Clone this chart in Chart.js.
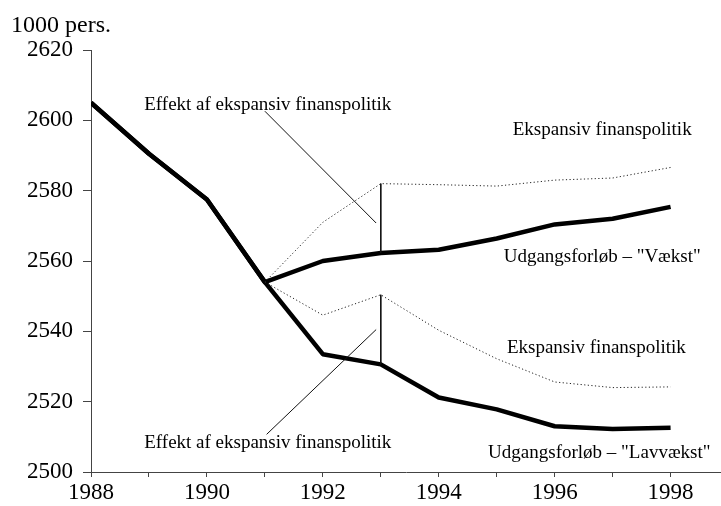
<!DOCTYPE html>
<html>
<head>
<meta charset="utf-8">
<script src="https://cdn.jsdelivr.net/npm/chart.js@4/dist/chart.umd.min.js"></script>
<style>
html,body{margin:0;padding:0;background:#fff;}
#wrap{width:721px;height:506px;position:relative;}
</style>
</head>
<body>
<div id="wrap"><canvas id="c" width="721" height="506"></canvas></div>
<script>
// ---- data ----
const years = [1988, 1989, 1990, 1991, 1992, 1993, 1994, 1995, 1996, 1997, 1998];
const vaekst = [2605, 2590.5, 2577.5, 2554, 2560, 2562.3, 2563.2, 2566.4, 2570.4, 2572, 2575.4];
const lavvaekst = [2605, 2590.5, 2577.5, 2554, 2533.5, 2530.6, 2521.2, 2517.8, 2513, 2512.2, 2512.6];
const ekspYears = [1991, 1992, 1993, 1994, 1995, 1996, 1997, 1998];
const ekspVaekst = [2554, 2571, 2582, 2581.7, 2581.3, 2583, 2583.6, 2586.6];
const ekspLav = [2554, 2544.6, 2550.4, 2540.3, 2532.2, 2525.6, 2524, 2524.2];
const yTicks = [2500, 2520, 2540, 2560, 2580, 2600, 2620];
const xLabelYears = [1988, 1990, 1992, 1994, 1996, 1998];
const unitLabel = '1000 pers.';
// annotation leader lines (year, value)
const leaderUpper = [[1991.0, 2602.6], [1992.92, 2570.8]];
const leaderLower = [[1991.03, 2510.7], [1992.92, 2540.5]];
// annotation texts: [text, year, value]
const labels = [
  ['Effekt af ekspansiv finanspolitik', 1991.05, 2604.3],
  ['Ekspansiv finanspolitik', 1996.82, 2597.2],
  ['Udgangsforløb \u2013 "Vækst"', 1996.82, 2561],
  ['Ekspansiv finanspolitik', 1996.72, 2535.2],
  ['Udgangsforløb \u2013 "Lavvækst"', 1996.77, 2505.3],
  ['Effekt af ekspansiv finanspolitik', 1991.05, 2508.2]
];

const pts = (xs, ys) => xs.map((x, i) => ({x: x, y: ys[i]}));
const effectYear = 1993;
const iV = years.indexOf(effectYear), iE = ekspYears.indexOf(effectYear);

const FONT = "'Liberation Serif', 'Times New Roman', serif";

const thick = {borderColor: '#000', borderWidth: 4.5, pointRadius: 0, fill: false, tension: 0, borderJoinStyle: 'round', borderCapStyle: 'butt'};
const dotted = {borderColor: '#222', borderWidth: 1, borderDash: [1.2, 2.4], pointRadius: 0, fill: false, tension: 0};
const thin = {borderColor: '#111', borderWidth: 1, pointRadius: 0, fill: false, tension: 0};

const textPlugin = {
  id: 'texts',
  afterDraw(chart) {
    const ctx = chart.ctx, xs = chart.scales.x, ys = chart.scales.y;
    ctx.save();
    ctx.fillStyle = '#000';
    ctx.font = '19px ' + FONT;
    ctx.textAlign = 'center';
    ctx.textBaseline = 'middle';
    labels.forEach(l => ctx.fillText(l[0], xs.getPixelForValue(l[1]), ys.getPixelForValue(l[2])));
    ctx.font = '24px ' + FONT;
    ctx.textAlign = 'left';
    ctx.fillText(unitLabel, 11, 26);
    ctx.restore();
  }
};

new Chart(document.getElementById('c'), {
  type: 'line',
  data: {
    datasets: [
      Object.assign({data: pts(ekspYears, ekspVaekst)}, dotted),
      Object.assign({data: pts(ekspYears, ekspLav)}, dotted),
      Object.assign({data: [{x: effectYear, y: ekspVaekst[iE]}, {x: effectYear, y: vaekst[iV]}]}, thin),
      Object.assign({data: [{x: effectYear, y: ekspLav[iE]}, {x: effectYear, y: lavvaekst[iV]}]}, thin),
      Object.assign({data: leaderUpper.map(p => ({x: p[0], y: p[1]}))}, thin),
      Object.assign({data: leaderLower.map(p => ({x: p[0], y: p[1]}))}, thin),
      Object.assign({data: pts(years, vaekst)}, thick),
      Object.assign({data: pts(years, lavvaekst)}, thick)
    ]
  },
  options: {
    responsive: false,
    animation: false,
    parsing: true,
    layout: {padding: {top: 50, left: 17, right: 0, bottom: -2}},
    plugins: {legend: {display: false}, tooltip: {enabled: false}, title: {display: false}},
    scales: {
      x: {
        type: 'linear', min: 1988, max: 1998.87,
        border: {display: true, color: '#444', width: 1},
        grid: {display: true, drawOnChartArea: false, drawTicks: true, tickLength: 5, color: '#444'},
        ticks: {
          stepSize: 1, includeBounds: false, autoSkip: false, maxRotation: 0, padding: 4,
          color: '#000', font: {family: FONT, size: 23, lineHeight: 1},
          callback: v => xLabelYears.includes(v) ? String(v) : ''
        }
      },
      y: {
        type: 'linear', min: yTicks[0], max: yTicks[yTicks.length - 1],
        border: {display: true, color: '#444', width: 1},
        grid: {display: true, drawOnChartArea: false, drawTicks: true, tickLength: 8, color: '#444'},
        afterBuildTicks: s => { s.ticks = yTicks.map(v => ({value: v})); },
        ticks: {
          padding: 10, color: '#000', font: {family: FONT, size: 23, lineHeight: 1},
          callback: v => String(v)
        }
      }
    }
  },
  plugins: [textPlugin]
});
</script>
</body>
</html>
